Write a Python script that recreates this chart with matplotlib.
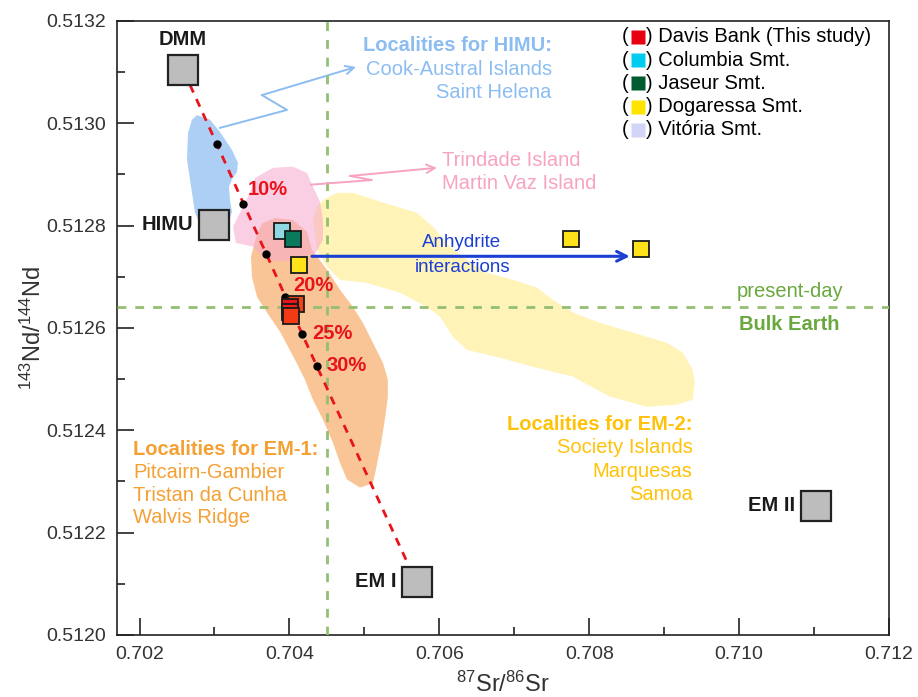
import matplotlib
matplotlib.use("Agg")
import matplotlib.pyplot as plt
from matplotlib.ticker import MultipleLocator, FormatStrFormatter

plt.rcParams['font.family'] = ['Liberation Sans', 'DejaVu Sans']
plt.rcParams['mathtext.fontset'] = 'custom'
plt.rcParams['mathtext.rm'] = 'Liberation Sans'
plt.rcParams['mathtext.it'] = 'Liberation Sans:italic'
plt.rcParams['mathtext.bf'] = 'Liberation Sans:bold'
plt.rcParams['mathtext.default'] = 'regular'

# ---- mantle end-members ----
end_names = ["DMM", "HIMU", "EM I", "EM II"]
end_sr = [0.70258, 0.70300, 0.70570, 0.71102]
end_nd = [0.513104, 0.512802, 0.512104, 0.512253]

# ---- DMM - EM I mixing curve (ticks at 5 % steps) ----
mix_sr = [0.702673, 0.703029, 0.703387, 0.703693, 0.703947, 0.704167, 0.704363, 0.705584]
mix_nd = [0.513075, 0.512960, 0.512843, 0.512744, 0.512661, 0.512589, 0.512526, 0.512138]
mix_labels = {2: "10%", 4: "20%", 5: "25%", 6: "30%"}

# ---- seamount samples ----
davis_sr = [0.704093, 0.704007, 0.704007, 0.704027]
davis_nd = [0.512647, 0.512640, 0.512632, 0.512624]
davis_col = ["#ee4418", "#e8141b", "#f0201a", "#f23a14"]
columbia_sr = [0.703896]
columbia_nd = [0.512790]
jaseur_sr = [0.704043]
jaseur_nd = [0.512774]
dogaressa_sr = [0.704123, 0.707753, 0.708696]
dogaressa_nd = [0.512723, 0.512774, 0.512754]

# ---- present-day Bulk Earth ----
bse_sr = 0.7045
bse_nd = 0.51264

# ---- OIB fields ----
himu_sr = [0.702767, 0.70294, 0.703073, 0.703233, 0.703313, 0.7033, 0.703233, 0.703193,
           0.703207, 0.703233, 0.70318, 0.702807, 0.70274, 0.7027, 0.702633, 0.702647, 0.7027]
himu_nd = [0.513016, 0.513007, 0.512983, 0.512948, 0.512923, 0.512905, 0.51289, 0.512876,
           0.51285, 0.512827, 0.512802, 0.512802, 0.512825, 0.512864, 0.512929, 0.512981, 0.513007]

trind_sr = [0.70354, 0.70378, 0.704047, 0.704233, 0.704313, 0.704407, 0.704447, 0.704447,
            0.704353, 0.70414, 0.703913, 0.7037, 0.703513, 0.703287, 0.703247, 0.70334, 0.703473]
trind_nd = [0.512893, 0.512913, 0.512915, 0.512903, 0.512876, 0.512847, 0.512811, 0.512772,
            0.512747, 0.512737, 0.512729, 0.512733, 0.512759, 0.512766, 0.512798, 0.512825, 0.512864]

em1_sr = [0.703553, 0.703633, 0.703807, 0.704047, 0.704233, 0.7043, 0.7045, 0.704673, 0.704847,
          0.70498, 0.705113, 0.705247, 0.705313, 0.705313, 0.705273, 0.70522, 0.705153, 0.705113,
          0.70494, 0.704767, 0.704673, 0.70458, 0.704447, 0.704313, 0.704207, 0.704073, 0.703873,
          0.7037, 0.703567, 0.7035, 0.703487]
em1_nd = [0.512776, 0.512804, 0.512815, 0.512811, 0.512788, 0.512753, 0.512714, 0.512675, 0.512641,
          0.51261, 0.512571, 0.512532, 0.512499, 0.512466, 0.512421, 0.512372, 0.512323, 0.512296,
          0.512288, 0.512304, 0.512337, 0.512376, 0.512421, 0.51246, 0.512499, 0.512538, 0.512593,
          0.51263, 0.512661, 0.5127, 0.512739]

em2_sr = [0.704447, 0.704633, 0.704847, 0.705247, 0.7057, 0.705913, 0.70614, 0.706367, 0.706633,
          0.70698, 0.7073, 0.707513, 0.70778, 0.70814, 0.70858, 0.709033, 0.709247, 0.70938,
          0.709407, 0.70938, 0.709167, 0.708767, 0.708273, 0.70778, 0.707247, 0.706807, 0.706367,
          0.70618, 0.706007, 0.705833, 0.705473, 0.705033, 0.704673, 0.7045, 0.704367, 0.704313,
          0.704367]
em2_nd = [0.51285, 0.512864, 0.512864, 0.512845, 0.512825, 0.512798, 0.512759, 0.512733, 0.512708,
          0.512694, 0.512679, 0.512655, 0.51263, 0.51261, 0.512591, 0.512571, 0.512552, 0.512518,
          0.512493, 0.51246, 0.51245, 0.512446, 0.512466, 0.512505, 0.512524, 0.512542, 0.512557,
          0.512583, 0.512622, 0.512641, 0.512669, 0.512688, 0.512694, 0.51272, 0.512753, 0.512811,
          0.512837]

# ---- leader lines to the field labels ----
himu_lead_sr = [0.703073, 0.703967, 0.703633, 0.704887]
himu_lead_nd = [0.512991, 0.513026, 0.513055, 0.51311]
trind_lead_sr = [0.704287, 0.7051, 0.704807, 0.705967]
trind_lead_nd = [0.51288, 0.512889, 0.512897, 0.512913]
anhy_sr = [0.7043, 0.70854]
anhy_nd = [0.51274, 0.51274]

legend_names = ["Davis Bank (This study)", "Columbia Smt.", "Jaseur Smt.",
                "Dogaressa Smt.", "Vitória Smt."]
legend_cols = ["#e60012", "#00ccf0", "#005a32", "#ffe400", "#d2d5f8"]

# colours
C_BLUE_F = "#aecff5"
C_PINK_F = "#f7a8cf"
C_ORNG_F = "#fac596"
C_YELL_F = "#fff3b8"
C_HIMU_T = "#8cbdf2"
C_PINK_T = "#f7a3c3"
C_EM1_T = "#f5a033"
C_EM2_T = "#ffc20a"
C_GREEN = "#93bf72"
C_GREEN_T = "#6aa83e"
C_RED = "#e8141b"
C_ANHY = "#1b3fd4"

FS = 14.5

fig = plt.figure(figsize=(9.18, 6.97), dpi=100)
ax = fig.add_axes([0.1275, 0.089, 0.841, 0.881])

# fields
ax.fill(em2_sr, em2_nd, color=C_YELL_F, lw=0, zorder=1)
ax.fill(em1_sr, em1_nd, color=C_ORNG_F, lw=0, zorder=2)
ax.fill(trind_sr, trind_nd, color=C_PINK_F, alpha=0.55, lw=0, zorder=3)
ax.fill(himu_sr, himu_nd, color=C_BLUE_F, lw=0, zorder=3)

# Bulk Earth reference lines
ax.axvline(bse_sr, color=C_GREEN, lw=2.0, dashes=(3.2, 3.2), zorder=4)
ax.axhline(bse_nd, color=C_GREEN, lw=2.0, dashes=(3.2, 3.2), zorder=4)

# mixing line
ax.plot(mix_sr, mix_nd, color=C_RED, lw=2.0, dashes=(3.0, 2.6), zorder=5)
ax.plot(mix_sr[1:-1], mix_nd[1:-1], 'o', color='black', ms=5, zorder=6)
offs = {2: (4, 14), 4: (8, 11), 5: (10, 0), 6: (10, 0)}
for i, lab in mix_labels.items():
    ax.annotate(lab, (mix_sr[i], mix_nd[i]), xytext=offs[i], textcoords='offset pixels',
                color=C_RED, fontsize=14.5, fontweight='bold', ha='left', va='center', zorder=7)

# end-members
ax.plot(end_sr, end_nd, 's', ms=21, mfc='#bdbdbd', mec='#222222', mew=1.6, zorder=6)
end_offs = {"DMM": (0, 31, 'center'), "HIMU": (-21, 0, 'right'),
            "EM I": (-20, 0, 'right'), "EM II": (-21, 0, 'right')}
for n, sx, sy in zip(end_names, end_sr, end_nd):
    dx, dy, ha = end_offs[n]
    ax.annotate(n, (sx, sy), xytext=(dx, dy), textcoords='offset pixels', ha=ha,
                va='center', fontsize=FS, fontweight='bold', color='#1a1a1a', zorder=7)

# samples
ax.plot(columbia_sr, columbia_nd, 's', ms=11, mfc='#8fd8e2', mec='#1a1a1a', mew=1.3, zorder=8)
ax.plot(jaseur_sr, jaseur_nd, 's', ms=11, mfc='#0b7a5c', mec='#1a1a1a', mew=1.3, zorder=8)
ax.plot(dogaressa_sr, dogaressa_nd, 's', ms=11, mfc='#ffe21a', mec='#1a1a1a', mew=1.3, zorder=8)
for sx, sy, c in zip(davis_sr, davis_nd, davis_col):
    ax.plot([sx], [sy], 's', ms=11, mfc=c, mec='#1a1a1a', mew=1.3, zorder=8)

# anhydrite arrow
ax.annotate("", xy=(anhy_sr[1], anhy_nd[1]), xytext=(anhy_sr[0], anhy_nd[0]),
            arrowprops=dict(arrowstyle='->,head_length=0.7,head_width=0.35', color=C_ANHY,
                            lw=2.2, shrinkA=0, shrinkB=0), zorder=7)
ax.text(0.70629, 0.512766, "Anhydrite", color=C_ANHY, fontsize=13.5, ha='center', va='center')
ax.text(0.70631, 0.512718, "interactions", color=C_ANHY, fontsize=13.5, ha='center', va='center')

# leader lines
ax.plot(himu_lead_sr[:-1], himu_lead_nd[:-1], color=C_HIMU_T, lw=1.4, zorder=5)
ax.annotate("", xy=(himu_lead_sr[-1], himu_lead_nd[-1]),
            xytext=(himu_lead_sr[-2], himu_lead_nd[-2]),
            arrowprops=dict(arrowstyle='->,head_length=0.6,head_width=0.3', color=C_HIMU_T,
                            lw=1.4, shrinkA=0, shrinkB=0))
ax.plot(trind_lead_sr[:-1], trind_lead_nd[:-1], color=C_PINK_T, lw=1.4, zorder=5)
ax.annotate("", xy=(trind_lead_sr[-1], trind_lead_nd[-1]),
            xytext=(trind_lead_sr[-2], trind_lead_nd[-2]),
            arrowprops=dict(arrowstyle='->,head_length=0.6,head_width=0.3', color=C_PINK_T,
                            lw=1.4, shrinkA=0, shrinkB=0))

# field labels
ax.text(0.7075, 0.513151, "Localities for HIMU:", color=C_HIMU_T, fontsize=FS,
        fontweight='bold', ha='right', va='center')
ax.text(0.7075, 0.513106, "Cook-Austral Islands", color=C_HIMU_T, fontsize=FS, ha='right', va='center')
ax.text(0.7075, 0.513061, "Saint Helena", color=C_HIMU_T, fontsize=FS, ha='right', va='center')

ax.text(0.706033, 0.512927, "Trindade Island", color=C_PINK_T, fontsize=FS, ha='left', va='center')
ax.text(0.706033, 0.512882, "Martin Vaz Island", color=C_PINK_T, fontsize=FS, ha='left', va='center')

ax.text(0.701913, 0.512362, "Localities for EM-1:", color=C_EM1_T, fontsize=FS,
        fontweight='bold', ha='left', va='center')
for yy, t in zip([0.512317, 0.512272, 0.512229],
                 ["Pitcairn-Gambier", "Tristan da Cunha", "Walvis Ridge"]):
    ax.text(0.701913, yy, t, color=C_EM1_T, fontsize=FS, ha='left', va='center')

ax.text(0.70938, 0.512411, "Localities for EM-2:", color=C_EM2_T, fontsize=FS,
        fontweight='bold', ha='right', va='center')
for yy, t in zip([0.512366, 0.512319, 0.512274], ["Society Islands", "Marquesas", "Samoa"]):
    ax.text(0.70938, yy, t, color=C_EM2_T, fontsize=FS, ha='right', va='center')

ax.text(0.710673, 0.512671, "present-day", color=C_GREEN_T, fontsize=FS, ha='center', va='center')
ax.text(0.710673, 0.512606, "Bulk Earth", color=C_GREEN_T, fontsize=FS, fontweight='bold',
        ha='center', va='center')

# key in the upper right corner
for k, (name, col) in enumerate(zip(legend_names, legend_cols)):
    yk = 0.974 - k * 0.0378
    ax.text(0.654, yk, "(", transform=ax.transAxes, fontsize=FS, ha='left', va='center')
    ax.plot([0.6742], [yk], 's', ms=10.5, mfc=col, mec='none', transform=ax.transAxes,
            clip_on=False)
    ax.text(0.6845, yk, ") " + name, transform=ax.transAxes, fontsize=FS, ha='left', va='center')

# axes
ax.set_xlim(0.7017, 0.712)
ax.set_ylim(0.5120, 0.5132)
ax.xaxis.set_major_locator(MultipleLocator(0.002))
ax.xaxis.set_minor_locator(MultipleLocator(0.001))
ax.yaxis.set_major_locator(MultipleLocator(0.0002))
ax.yaxis.set_minor_locator(MultipleLocator(0.0001))
ax.xaxis.set_major_formatter(FormatStrFormatter('%.3f'))
ax.yaxis.set_major_formatter(FormatStrFormatter('%.4f'))
ax.tick_params(which='both', direction='in', top=False, right=False, colors='#222222',
               labelcolor='#333333', labelsize=14)
ax.tick_params(which='major', length=12, width=1.2)
ax.tick_params(which='minor', length=6, width=1.2)
ax.tick_params(axis='x', pad=8)
ax.tick_params(axis='y', pad=8)
for s in ax.spines.values():
    s.set_linewidth(1.2)
    s.set_color('#222222')

ax.set_xlabel(r'$^{87}$Sr/$^{86}$Sr', fontsize=17, color='#333333', labelpad=6)
ax.set_ylabel(r'$^{143}$Nd/$^{144}$Nd', fontsize=17, color='#333333', labelpad=0)

fig.savefig("out.png", dpi=100)
